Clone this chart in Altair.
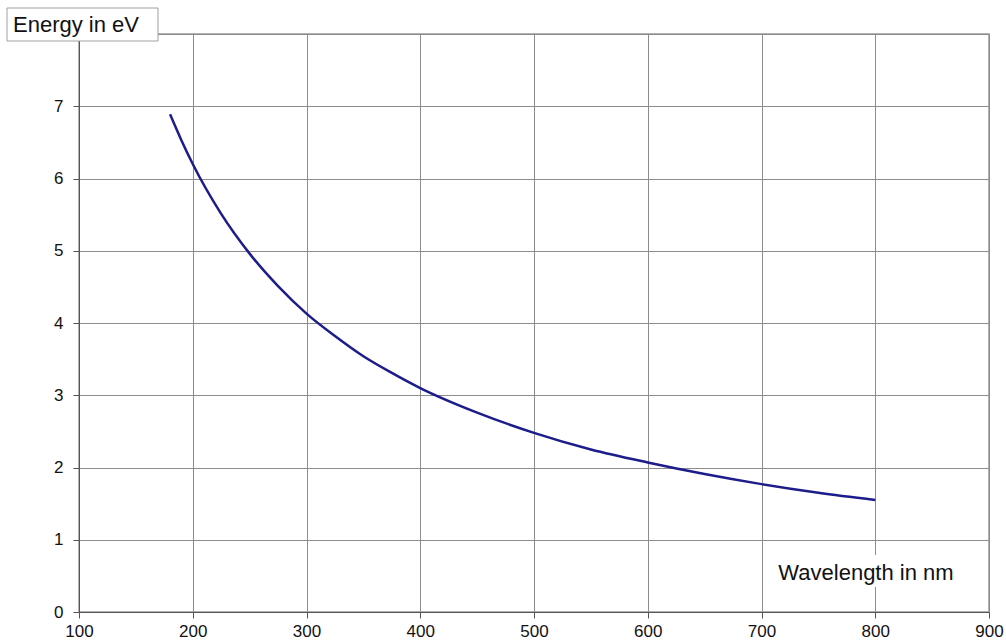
import altair as alt
import pandas as pd

# Values
wavelength_nm = [180, 190, 200, 225, 250, 275, 300, 325, 350, 375, 400, 450, 500,
                 550, 600, 650, 700, 750, 800]
energy_ev = [6.89, 6.53, 6.20, 5.51, 4.96, 4.51, 4.13, 3.82, 3.54, 3.31, 3.10, 2.76,
             2.48, 2.25, 2.07, 1.91, 1.77, 1.65, 1.55]
x_ticks = [100, 200, 300, 400, 500, 600, 700, 800, 900]
y_ticks = [0, 1, 2, 3, 4, 5, 6, 7, 8]
y_title = "Energy in eV"
x_title = "Wavelength in nm"

df = pd.DataFrame({"wl": wavelength_nm, "e": energy_ev})
one = pd.DataFrame({"k": [0]})

FONT = "Liberation Sans"
GRID = "#8c8c8c"

line = alt.Chart(df).mark_line(color="#1c1c8a", strokeWidth=2.5, interpolate="monotone").encode(
    x=alt.X("wl:Q", scale=alt.Scale(domain=[100, 900], nice=False, zero=False),
            axis=alt.Axis(values=x_ticks, title=None, grid=True, gridColor=GRID,
                          domainColor="#555", tickColor="#555", tickSize=6,
                          labelFontSize=17, labelColor="#111", labelPadding=5,
                          labelFont=FONT, labelFlush=False)),
    y=alt.Y("e:Q", scale=alt.Scale(domain=[0, 8], nice=False),
            axis=alt.Axis(values=y_ticks, title=None, grid=True, gridColor=GRID,
                          domainColor="#555", tickColor="#555", tickSize=6,
                          labelFontSize=17, labelColor="#111", labelPadding=10,
                          labelFont=FONT,
                          labelExpr="datum.value == 8 ? '' : datum.label")),
)

wl_bg = alt.Chart(one).mark_rect(fill="white").encode(
    x=alt.value(684), x2=alt.value(889), y=alt.value(521), y2=alt.value(553))
wl_text = alt.Chart(one).mark_text(
    text=x_title, font=FONT, fontSize=22, color="#111", align="center", baseline="middle"
).encode(x=alt.value(787), y=alt.value(539))

e_box = alt.Chart(one).mark_rect(fill="white", stroke="#a0a0a0", strokeWidth=1).encode(
    x=alt.value(-72), x2=alt.value(79), y=alt.value(-26), y2=alt.value(7))
e_text = alt.Chart(one).mark_text(
    text=y_title, font=FONT, fontSize=22, color="#111", align="left", baseline="middle"
).encode(x=alt.value(-66), y=alt.value(-9))

chart = alt.layer(line, wl_bg, wl_text, e_box, e_text).properties(
    width=910, height=578,
    autosize=alt.AutoSizeParams(type="none"),
    padding={"left": 79, "top": 34, "right": 17, "bottom": 32},
    background="white",
).configure_view(stroke="#999999", strokeWidth=1.5)

chart.save("out.html", embed_options={"renderer": "svg", "actions": False})
